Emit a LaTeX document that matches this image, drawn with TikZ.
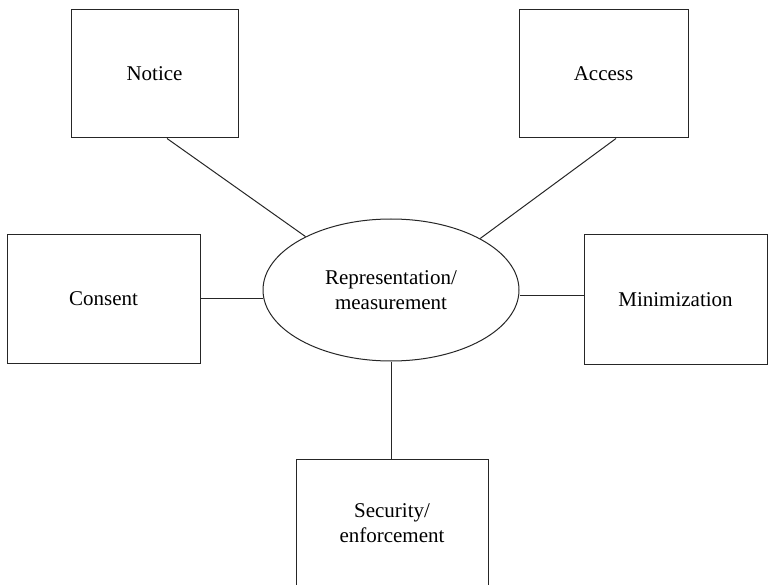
\documentclass[tikz,border=0pt]{standalone}
\usepackage{fontspec}
\setmainfont{Liberation Serif}
\usetikzlibrary{shapes.geometric}

\tikzset{
  pbox/.style={draw=black!85, line width=1pt, fill=white, inner sep=0pt,
    align=center, font=\fontsize{21}{25}\selectfont},
  hub/.style={ellipse, draw=black!85, line width=1pt, inner sep=0pt,
    minimum width=256pt, minimum height=142pt, align=center,
    font=\fontsize{21}{25}\selectfont},
  link/.style={draw=black!85, line width=1pt}
}

\begin{document}
\begin{tikzpicture}[x=1pt, y=-1pt]
  \useasboundingbox (0,0) rectangle (768,585);
  \clip (0,0) rectangle (768,585);

  % central concept
  \node[hub] (ell) at (391,290) {Representation/\\measurement};

  % surrounding principles
  \node[pbox, minimum width=167pt, minimum height=128pt] (notice) at (154.5,74) {Notice};
  \node[pbox, minimum width=169pt, minimum height=128pt] (access) at (603.5,74) {Access};
  \node[pbox, minimum width=193pt, minimum height=128pt] (consent) at (103.5,299) {Consent};
  \node[pbox, minimum width=183pt, minimum height=129pt] (minim) at (675.5,299.5) {Minimization};
  \node[pbox, minimum width=192pt, minimum height=128pt] (secur) at (392,523) {Security/\\enforcement};

  % connectors
  \draw[link] ([xshift=12.5pt]notice.south) -- (ell.148.8);
  \draw[link] ([xshift=12.5pt]access.south) -- (ell.30.6);
  \draw[link] ([yshift=1pt]consent.east) -- ([yshift=1pt]consent.east -| ell.west);
  \draw[link] ([yshift=4.5pt]minim.west) -- ([yshift=4.5pt]minim.west -| ell.east);
  \draw[link] (ell.south) -- (ell.south |- secur.north);
\end{tikzpicture}
\end{document}
